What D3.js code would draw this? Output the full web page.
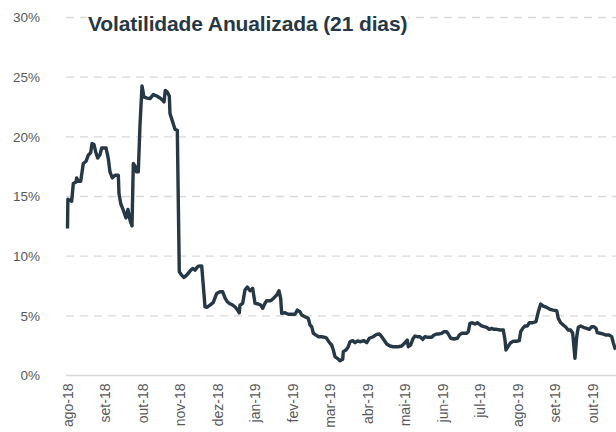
<!DOCTYPE html>
<html>
<head>
<meta charset="utf-8">
<script src="https://cdn.jsdelivr.net/npm/d3@7"></script>
<style>
  body { margin: 0; background: #fff; }
  svg { display: block; font-family: "Liberation Sans", Arial, sans-serif; }
</style>
</head>
<body>
<svg id="chart" width="616" height="432"></svg>
<script>
// rotulos do eixo x (um por mes)
const meses = ["ago-18", "set-18", "out-18", "nov-18", "dez-18", "jan-19", "fev-19",
  "mar-19", "abr-19", "mai-19", "jun-19", "jul-19", "ago-19", "set-19", "out-19"];

// posicao de cada ponto, em meses desde ago-18
const posicao = [0, 0.01, 0.112, 0.155, 0.227, 0.245, 0.288, 0.352, 0.421, 0.493, 0.555, 0.619,
  0.653, 0.707, 0.752, 0.805, 0.867, 0.912, 1.027, 1.088, 1.133, 1.195, 1.267, 1.355, 1.373,
  1.419, 1.488, 1.56, 1.613, 1.667, 1.72, 1.755, 1.8, 1.845, 1.888, 1.933, 1.987, 2.04, 2.128,
  2.2, 2.288, 2.379, 2.467, 2.539, 2.573, 2.608, 2.661, 2.715, 2.733, 2.805, 2.867, 2.928,
  2.981, 3.045, 3.107, 3.179, 3.267, 3.339, 3.4, 3.445, 3.488, 3.579, 3.667, 3.712, 3.8,
  3.888, 3.979, 4.067, 4.139, 4.2, 4.261, 4.333, 4.405, 4.467, 4.528, 4.581, 4.6, 4.672,
  4.733, 4.795, 4.867, 4.939, 5.0, 5.088, 5.152, 5.205, 5.267, 5.312, 5.419, 5.488, 5.579,
  5.64, 5.685, 5.712, 5.8, 5.888, 5.979, 6.067, 6.128, 6.2, 6.245, 6.333, 6.421, 6.467,
  6.512, 6.555, 6.627, 6.688, 6.779, 6.867, 6.912, 6.955, 7.0, 7.045, 7.088, 7.133, 7.195,
  7.267, 7.339, 7.355, 7.427, 7.488, 7.533, 7.605, 7.667, 7.728, 7.819, 7.907, 7.979, 8.048,
  8.155, 8.245, 8.315, 8.379, 8.44, 8.512, 8.6, 8.688, 8.821, 8.912, 9.0, 9.061, 9.088,
  9.152, 9.205, 9.267, 9.328, 9.4, 9.472, 9.533, 9.621, 9.712, 9.773, 9.845, 9.915, 9.979,
  10.04, 10.112, 10.155, 10.219, 10.307, 10.395, 10.448, 10.512, 10.645, 10.688, 10.733,
  10.795, 10.867, 10.928, 10.981, 11.045, 11.107, 11.179, 11.248, 11.312, 11.373, 11.445,
  11.533, 11.621, 11.667, 11.693, 11.755, 11.819, 11.888, 11.979, 12.048, 12.085, 12.139,
  12.2, 12.261, 12.315, 12.405, 12.493, 12.555, 12.619, 12.688, 12.779, 12.867, 12.955,
  13.045, 13.088, 13.152, 13.221, 13.293, 13.355, 13.419, 13.472, 13.533, 13.579, 13.621,
  13.685, 13.755, 13.845, 13.915, 13.979, 14.04, 14.093, 14.128, 14.2, 14.272, 14.36,
  14.448, 14.512, 14.555, 14.6, 14.627];

// volatilidade anualizada (%)
const volatilidade = [12.32, 14.77, 14.61, 16.09, 16.22, 16.56, 16.28, 16.28, 17.76, 17.95,
  18.46, 18.68, 19.43, 19.35, 18.73, 18.23, 18.51, 19.07, 19.07, 18.18, 17.06, 16.56, 16.78,
  16.78, 15.25, 14.41, 13.85, 13.21, 13.91, 13.02, 12.54, 17.76, 17.56, 17.06, 17.06, 20.97,
  24.26, 23.33, 23.25, 23.2, 23.54, 23.42, 23.25, 23.06, 22.92, 23.89, 23.75, 23.42, 21.95,
  21.24, 20.63, 20.55, 8.69, 8.41, 8.22, 8.41, 8.75, 8.97, 8.83, 9.02, 9.17, 9.19, 5.76,
  5.71, 5.9, 6.13, 6.88, 7.02, 7.02, 6.51, 6.18, 6.01, 5.9, 5.76, 5.51, 5.26, 5.9, 6.05,
  7.16, 7.41, 7.1, 7.3, 6.05, 5.99, 5.9, 5.63, 6.05, 6.26, 6.26, 6.46, 6.74, 7.1, 6.46,
  5.21, 5.26, 5.13, 5.13, 5.13, 5.48, 5.34, 5.07, 4.92, 4.79, 4.23, 4.09, 3.54, 3.39, 3.25,
  3.25, 3.2, 3.12, 2.89, 2.7, 2.56, 2.14, 1.58, 1.44, 1.24, 1.36, 2.0, 2.14, 2.41, 2.83,
  2.92, 2.75, 2.89, 2.83, 2.92, 2.75, 3.12, 3.25, 3.45, 3.48, 3.25, 2.97, 2.64, 2.47, 2.41,
  2.41, 2.47, 2.75, 2.97, 2.41, 2.56, 3.03, 3.31, 3.25, 3.25, 3.03, 3.25, 3.2, 3.2, 3.39,
  3.48, 3.48, 3.54, 3.67, 3.67, 3.48, 3.12, 3.06, 3.12, 3.39, 3.54, 3.54, 3.67, 4.37, 4.42,
  4.31, 4.42, 4.31, 4.15, 4.09, 4.04, 3.87, 3.95, 3.87, 3.87, 3.81, 3.81, 2.97, 2.14, 2.47,
  2.75, 2.87, 2.87, 2.92, 3.67, 3.95, 4.15, 4.15, 4.42, 4.42, 4.51, 5.34, 5.99, 5.82, 5.71,
  5.54, 5.48, 5.43, 4.79, 4.42, 4.23, 4.04, 3.81, 3.81, 3.54, 1.44, 3.25, 4.04, 4.15, 4.04,
  3.95, 3.87, 4.09, 4.09, 3.95, 3.59, 3.54, 3.48, 3.39, 3.39, 3.25, 2.75, 2.28, 2.2];

const yTicks = [0, 5, 10, 15, 20, 25, 30];
const titulo = "Volatilidade Anualizada (21 dias)";

const svg = d3.select("#chart");
const corLinha = "#263845";
const corGrade = "#d9d9d9";

const x = d3.scaleLinear().domain([0, 14.627]).range([67.5, 616]);
const y = d3.scaleLinear().domain([0, 30]).range([375.5, 17.5]);

// grade horizontal tracejada
svg.append("g")
  .selectAll("line")
  .data(yTicks.filter(d => d > 0))
  .enter()
  .append("line")
    .attr("x1", 66).attr("x2", 616)
    .attr("y1", d => y(d)).attr("y2", d => y(d))
    .attr("stroke", corGrade)
    .attr("stroke-width", 1.4)
    .attr("stroke-dasharray", "8,6");

// linha base (0%)
svg.append("line")
  .attr("x1", 66).attr("x2", 616)
  .attr("y1", y(0)).attr("y2", y(0))
  .attr("stroke", corGrade)
  .attr("stroke-width", 1.6);

// eixo y
const eixoY = svg.append("g")
  .attr("transform", "translate(40,0)")
  .call(d3.axisLeft(y).tickValues(yTicks).tickSize(0).tickPadding(0).tickFormat(d => d + "%"));
eixoY.select(".domain").remove();
eixoY.selectAll("text")
  .attr("fill", "#595959")
  .style("font-size", "13.5px");

// eixo x, rotulos verticais
const eixoX = svg.append("g")
  .attr("transform", "translate(0," + (y(0) + 8) + ")")
  .call(d3.axisBottom(x).tickValues(d3.range(meses.length)).tickSize(0).tickFormat(i => meses[i]));
eixoX.select(".domain").remove();
eixoX.selectAll("text")
  .attr("fill", "#595959")
  .style("font-size", "14px")
  .attr("text-anchor", "end")
  .attr("transform", "rotate(-90)")
  .attr("x", 0)
  .attr("y", 0)
  .attr("dy", "0.35em");

// serie
const linha = d3.line()
  .x((d, i) => x(posicao[i]))
  .y(d => y(d));

svg.append("path")
  .datum(volatilidade)
  .attr("d", linha)
  .attr("fill", "none")
  .attr("stroke", corLinha)
  .attr("stroke-width", 3.4)
  .attr("stroke-linejoin", "round");

// titulo com fundo branco por cima da grade
const gTitulo = svg.append("g");
const bg = gTitulo.append("rect").attr("fill", "#fff");
const txt = gTitulo.append("text")
  .attr("x", 88)
  .attr("y", 31)
  .attr("fill", corLinha)
  .style("font-size", "21px")
  .style("font-weight", "bold")
  .style("letter-spacing", "-0.5px")
  .attr("textLength", 319)
  .text(titulo);
const bb = txt.node().getBBox();
bg.attr("x", bb.x - 1).attr("y", bb.y + 2).attr("width", bb.width + 2).attr("height", bb.height - 4);
</script>
</body>
</html>
